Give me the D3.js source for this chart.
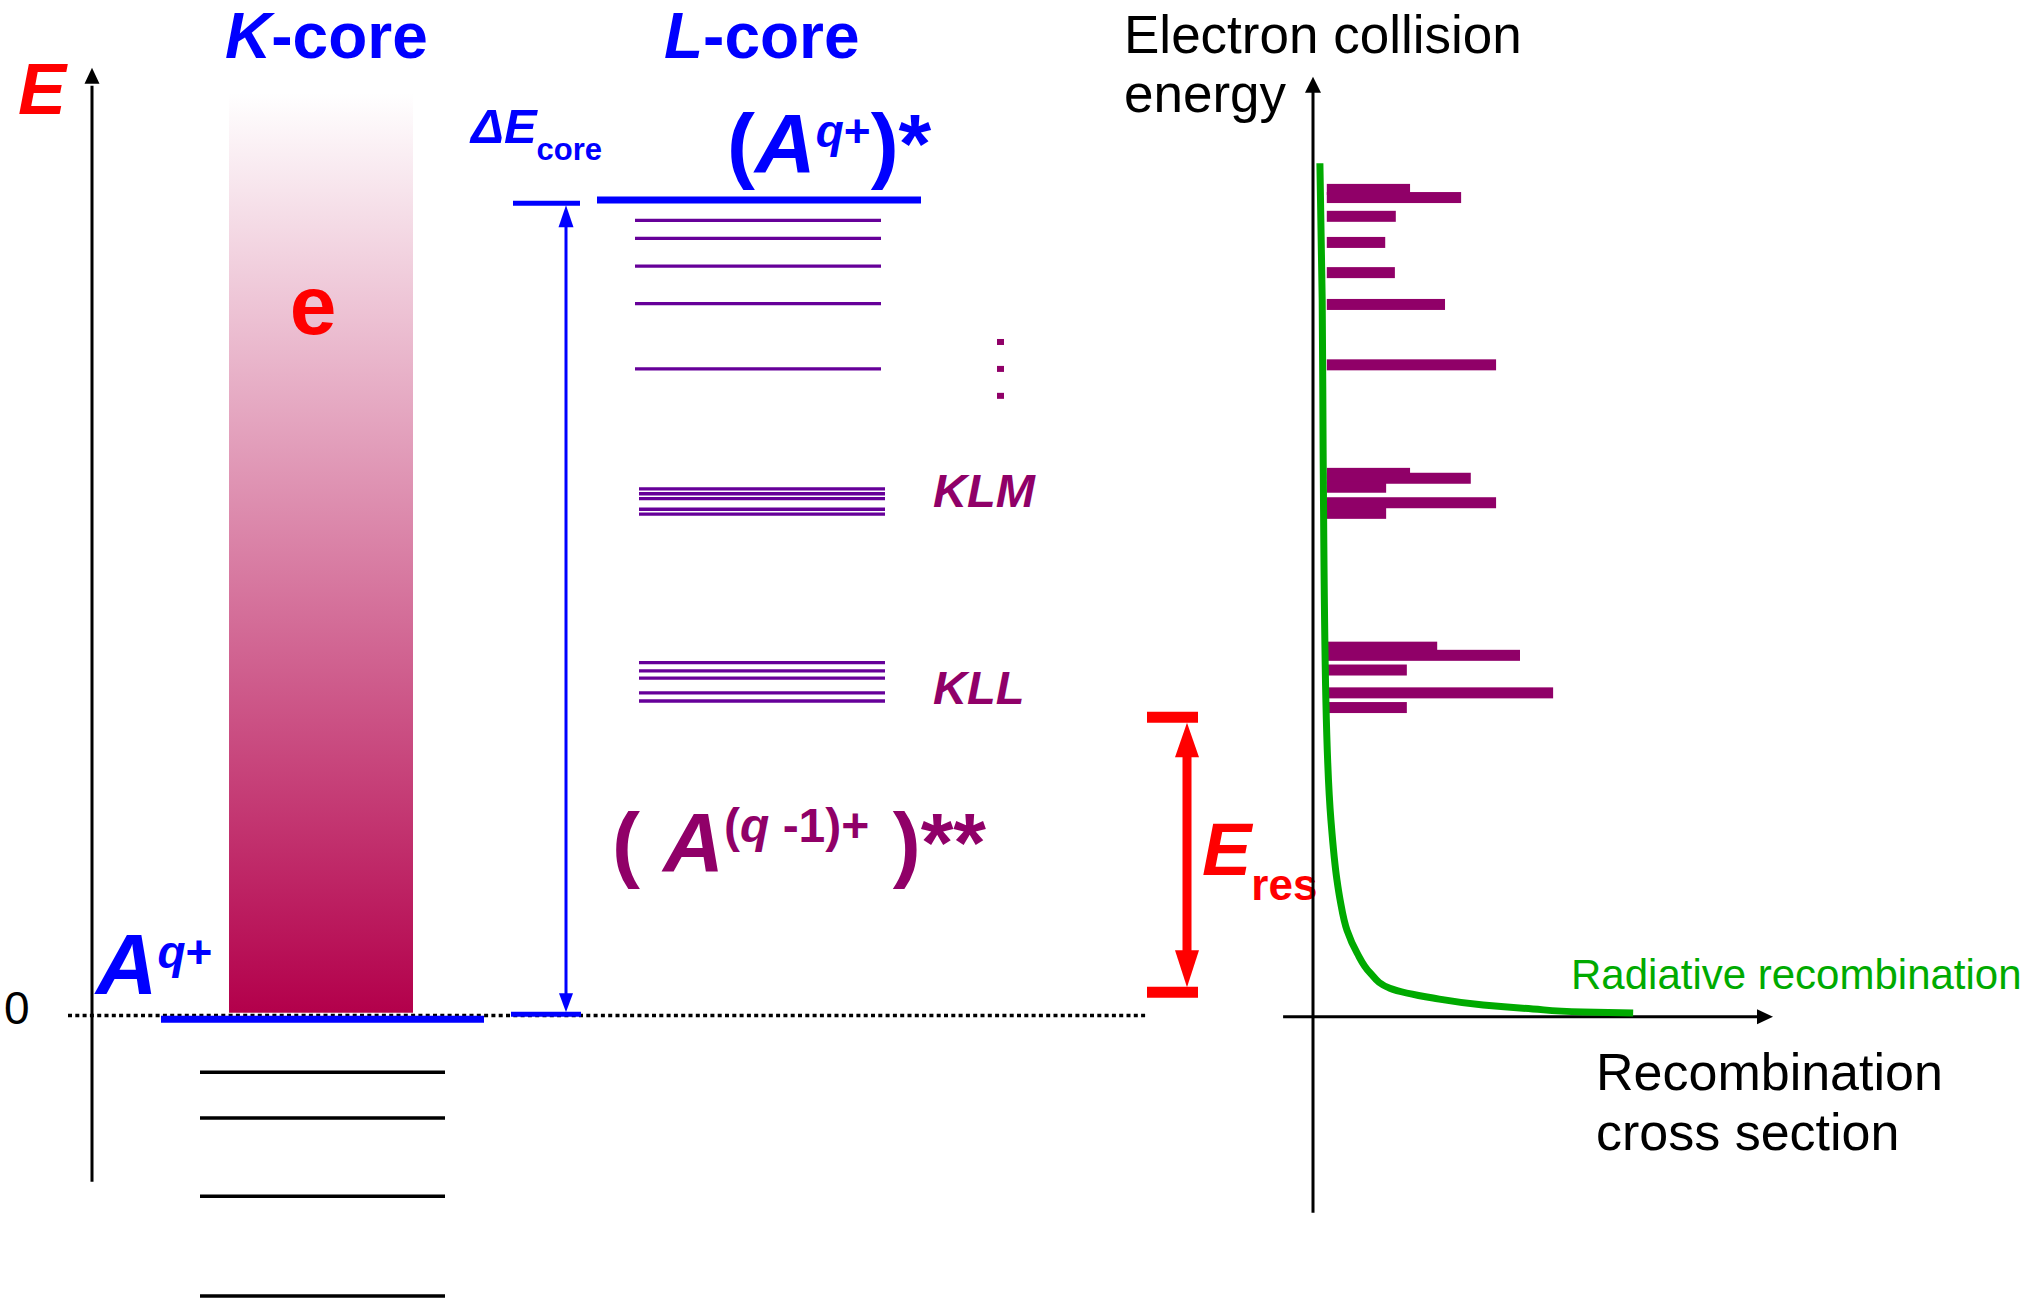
<!DOCTYPE html>
<html>
<head>
<meta charset="utf-8">
<script src="https://cdn.jsdelivr.net/npm/d3@7"></script>
<style>
  body { margin: 0; background: #fff; }
  svg text { font-family: "Liberation Sans", Arial, sans-serif; white-space: pre; }
</style>
</head>
<body>
<svg id="chart"></svg>
<script>

var width = 2042,
    height = 1298;

// Energies in units of dE_core (core excitation = 100).
var coreLevel = 100;
var groundLevel = -0.4;
var lCoreLevels = [97.5, 95.3, 91.9, 87.3, 79.3];
var klmLevels = [64.6, 64.0, 63.4, 62.1, 61.5];
var kllLevels = [43.3, 42.3, 41.4, 39.6, 38.6];
var boundLevels = [-6.9, -12.5, -22.1, -34.3];
var ellipsisLevels = [82.6, 79.3, 76.0];
var continuumRange = [0.4, 113.1];
var deltaECore = [0.2, 99.6];
var eRes = [2.9, 36.6];

// DR resonances on the right: energy and strength.
var drEnergy   = [101.3, 100.3, 98.0, 94.8, 91.1, 87.2, 79.8,
                  66.5, 65.9, 64.8, 62.9, 61.6,
                  45.2, 44.2, 42.4, 39.6, 37.8];
var drStrength = [2.11, 3.22, 1.80, 1.57, 1.78, 2.87, 3.98,
                  2.11, 3.43, 1.59, 3.98, 1.59,
                  2.70, 4.50, 2.04, 5.22, 2.04];

// Radiative recombination cross section.
var rrStrength = [0.15, 0.20, 0.22, 0.28, 0.39, 0.52, 0.59, 0.74, 0.96, 1.24, 1.67, 2.61, 3.70, 4.78, 5.87, 6.96];
var rrEnergy   = [104.5, 87.7, 69.4, 38.7, 24.0, 16.7, 14.2, 10.5, 7.7, 5.3, 3.4, 2.2, 1.35, 0.86, 0.49, 0.37];

var blue = "#0000ff", red = "#ff0000", purple = "#900068", violet = "#660099", green = "#00aa00";

var svg = d3.select("#chart")
    .attr("width", width)
    .attr("height", height);

var yE = d3.scaleLinear().domain([0, 100]).range([1016, 200]);
var xS = d3.scaleLinear().domain([0, 10]).range([1313, 1773]);

var defs = svg.append("defs");
var grad = defs.append("linearGradient")
    .attr("id", "cont-grad")
    .attr("x1", 0).attr("y1", 0).attr("x2", 0).attr("y2", 1);
grad.append("stop").attr("offset", "0%").attr("stop-color", "#ffffff");
grad.append("stop").attr("offset", "100%").attr("stop-color", "#b3004b");

function tri(g, tipX, tipY, baseX, baseY, half, color) {
    // arrow head from base centre to tip
    var dx = tipX - baseX, dy = tipY - baseY;
    var len = Math.sqrt(dx * dx + dy * dy);
    var nx = -dy / len * half, ny = dx / len * half;
    g.append("path")
        .attr("d", "M" + tipX + "," + tipY +
            "L" + (baseX + nx) + "," + (baseY + ny) +
            "L" + (baseX - nx) + "," + (baseY - ny) + "Z")
        .attr("fill", color);
}

function hline(g, x1, x2, y, color, w) {
    g.append("line")
        .attr("x1", x1).attr("x2", x2)
        .attr("y1", y).attr("y2", y)
        .attr("stroke", color)
        .attr("stroke-width", w);
}

var left = svg.append("g").attr("class", "left");

// continuum of free electrons
left.append("rect")
    .attr("x", 229)
    .attr("width", 184)
    .attr("y", yE(continuumRange[1]))
    .attr("height", yE(continuumRange[0]) - yE(continuumRange[1]))
    .attr("fill", "url(#cont-grad)");

// energy axis
left.append("line")
    .attr("x1", 92).attr("x2", 92)
    .attr("y1", yE(-20.3)).attr("y2", yE(114))
    .attr("stroke", "#000").attr("stroke-width", 3);
tri(left, 92, yE(116.2), 92, yE(116.2) + 16, 7.5, "#000");

// zero line
left.append("line")
    .attr("x1", 68).attr("x2", 1146)
    .attr("y1", yE(0) - 0.5).attr("y2", yE(0) - 0.5)
    .attr("stroke", "#000")
    .attr("stroke-width", 3.5)
    .attr("stroke-dasharray", "4,3.3");

left.append("text")
    .attr("x", 4).attr("y", yE(0) + 8)
    .attr("font-size", 46)
    .text("0");

// bound levels of the ion
left.selectAll("line.bound")
    .data(boundLevels)
    .enter().append("line")
        .attr("class", "bound")
        .attr("x1", 200).attr("x2", 445)
        .attr("y1", d => yE(d)).attr("y2", d => yE(d))
        .attr("stroke", "#000").attr("stroke-width", 3.5);

// ground state A^q+
hline(left, 161, 484, yE(groundLevel), blue, 7);

// core excited state (A^q+)*
hline(left, 597, 921, yE(coreLevel), blue, 7);

// doubly excited levels
var levelGroups = [
    {levels: lCoreLevels, x1: 635, x2: 881},
    {levels: klmLevels, x1: 639, x2: 885},
    {levels: kllLevels, x1: 639, x2: 885}
];
levelGroups.forEach(function(grp) {
    left.append("g").selectAll("line")
        .data(grp.levels)
        .enter().append("line")
            .attr("x1", grp.x1).attr("x2", grp.x2)
            .attr("y1", d => yE(d)).attr("y2", d => yE(d))
            .attr("stroke", violet)
            .attr("stroke-width", 3.3);
});

left.selectAll("rect.dot")
    .data(ellipsisLevels)
    .enter().append("rect")
        .attr("class", "dot")
        .attr("x", 997).attr("width", 7)
        .attr("y", d => yE(d) - 3).attr("height", 6)
        .attr("fill", purple);

// dE_core arrow
hline(left, 513, 580, yE(deltaECore[1]), blue, 5);
hline(left, 511, 581, yE(deltaECore[0]), blue, 5);
left.append("line")
    .attr("x1", 566).attr("x2", 566)
    .attr("y1", yE(deltaECore[1]) + 15).attr("y2", yE(deltaECore[0]) - 15)
    .attr("stroke", blue).attr("stroke-width", 3);
tri(left, 566, yE(deltaECore[1]) + 2, 566, yE(deltaECore[1]) + 24, 7.5, blue);
tri(left, 566, yE(deltaECore[0]) - 2, 566, yE(deltaECore[0]) - 21, 7, blue);

// E_res arrow
hline(left, 1147, 1198, yE(eRes[1]), red, 11);
hline(left, 1147, 1198, yE(eRes[0]), red, 11);
left.append("line")
    .attr("x1", 1187).attr("x2", 1187)
    .attr("y1", yE(eRes[1]) + 30).attr("y2", yE(eRes[0]) - 30)
    .attr("stroke", red).attr("stroke-width", 9);
tri(left, 1187, yE(eRes[1]) + 5.5, 1187, yE(eRes[1]) + 40, 12, red);
tri(left, 1187, yE(eRes[0]) - 5, 1187, yE(eRes[0]) - 42, 12, red);

// labels
left.append("text")
    .attr("x", 18).attr("y", 114)
    .attr("font-size", 72).attr("font-weight", "bold").attr("font-style", "italic")
    .attr("fill", red).text("E");

function coreTitle(x, letter) {
    var t = left.append("text")
        .attr("x", x).attr("y", 58)
        .attr("font-size", 64).attr("font-weight", "bold")
        .attr("fill", blue);
    t.append("tspan").attr("font-style", "italic").text(letter);
    t.append("tspan").text("-core");
}
coreTitle(225, "K");
coreTitle(664, "L");

left.append("text")
    .attr("x", 313).attr("y", 334)
    .attr("text-anchor", "middle")
    .attr("font-size", 84).attr("font-weight", "bold")
    .attr("fill", red).text("e");

var dE = left.append("text")
    .attr("x", 471).attr("y", 143)
    .attr("font-size", 49).attr("font-weight", "bold")
    .attr("fill", blue);
dE.append("tspan").attr("font-style", "italic").text("\u0394E");
dE.append("tspan").attr("font-size", 31).attr("dy", 17).text("core");

var aStar = left.append("text")
    .attr("x", 727).attr("y", 173)
    .attr("font-size", 84).attr("font-weight", "bold")
    .attr("fill", blue);
aStar.append("tspan").text("(");
aStar.append("tspan").attr("font-style", "italic").text("A");
aStar.append("tspan").attr("font-size", 46).attr("dy", -26).attr("font-style", "italic").text("q");
aStar.append("tspan").attr("font-size", 46).text("+");
aStar.append("tspan").attr("dy", 26).text(")*");

var aq = left.append("text")
    .attr("x", 96).attr("y", 994)
    .attr("font-size", 85).attr("font-weight", "bold")
    .attr("fill", blue);
aq.append("tspan").attr("font-style", "italic").text("A");
aq.append("tspan").attr("font-size", 46).attr("dy", -26).attr("font-style", "italic").text("q");
aq.append("tspan").attr("font-size", 46).text("+");

var aDbl = left.append("text")
    .attr("x", 612).attr("y", 872)
    .attr("font-size", 84).attr("font-weight", "bold")
    .attr("fill", purple);
aDbl.append("tspan").text("( ");
aDbl.append("tspan").attr("font-style", "italic").text("A");
aDbl.append("tspan").attr("font-size", 48).attr("dy", -30).text("(");
aDbl.append("tspan").attr("font-size", 48).attr("font-style", "italic").text("q");
aDbl.append("tspan").attr("font-size", 48).text(" -1)+");
aDbl.append("tspan").attr("dy", 30).text(" )**");

[["KLM", 507], ["KLL", 704]].forEach(function(d) {
    left.append("text")
        .attr("x", 933).attr("y", d[1])
        .attr("font-size", 47).attr("font-weight", "bold").attr("font-style", "italic")
        .attr("fill", purple).text(d[0]);
});

var er = left.append("text")
    .attr("x", 1202).attr("y", 875)
    .attr("font-size", 74).attr("font-weight", "bold")
    .attr("fill", red);
er.append("tspan").attr("font-style", "italic").text("E");
er.append("tspan").attr("font-size", 44).attr("dy", 25).text("res");

// ---- right panel: recombination cross section ----
var right = svg.append("g").attr("class", "right");

right.selectAll("rect.dr")
    .data(drEnergy)
    .enter().append("rect")
        .attr("class", "dr")
        .attr("x", xS(0.3))
        .attr("width", (d, i) => xS(drStrength[i]) - xS(0.3))
        .attr("y", d => yE(d) - 5.5)
        .attr("height", 11)
        .attr("fill", purple);

right.append("line")
    .attr("x1", xS(0)).attr("x2", xS(0))
    .attr("y1", yE(-24.1)).attr("y2", yE(113.5))
    .attr("stroke", "#000").attr("stroke-width", 3);
tri(right, xS(0), yE(115.1), xS(0), yE(115.1) + 16, 8, "#000");

right.append("line")
    .attr("x1", xS(-0.65)).attr("x2", xS(9.7))
    .attr("y1", yE(-0.1)).attr("y2", yE(-0.1))
    .attr("stroke", "#000").attr("stroke-width", 3);
tri(right, xS(10), yE(-0.1), xS(10) - 16, yE(-0.1), 7.5, "#000");

var rrLine = d3.line()
    .x((d, i) => xS(rrStrength[i]))
    .y(d => yE(d))
    .curve(d3.curveMonotoneY);

right.append("path")
    .attr("d", rrLine(rrEnergy))
    .attr("fill", "none")
    .attr("stroke", green)
    .attr("stroke-width", 7);

right.append("text")
    .attr("x", 1571).attr("y", 989)
    .attr("font-size", 42)
    .attr("fill", green)
    .text("Radiative recombination");

var yLab = right.append("text")
    .attr("x", 1124).attr("y", 53)
    .attr("font-size", 53);
yLab.append("tspan").text("Electron collision");
yLab.append("tspan").attr("x", 1124).attr("dy", 59).text("energy");

var xLab = right.append("text")
    .attr("x", 1596).attr("y", 1090)
    .attr("font-size", 52);
xLab.append("tspan").text("Recombination");
xLab.append("tspan").attr("x", 1596).attr("dy", 60).text("cross section");

</script>
</body>
</html>
